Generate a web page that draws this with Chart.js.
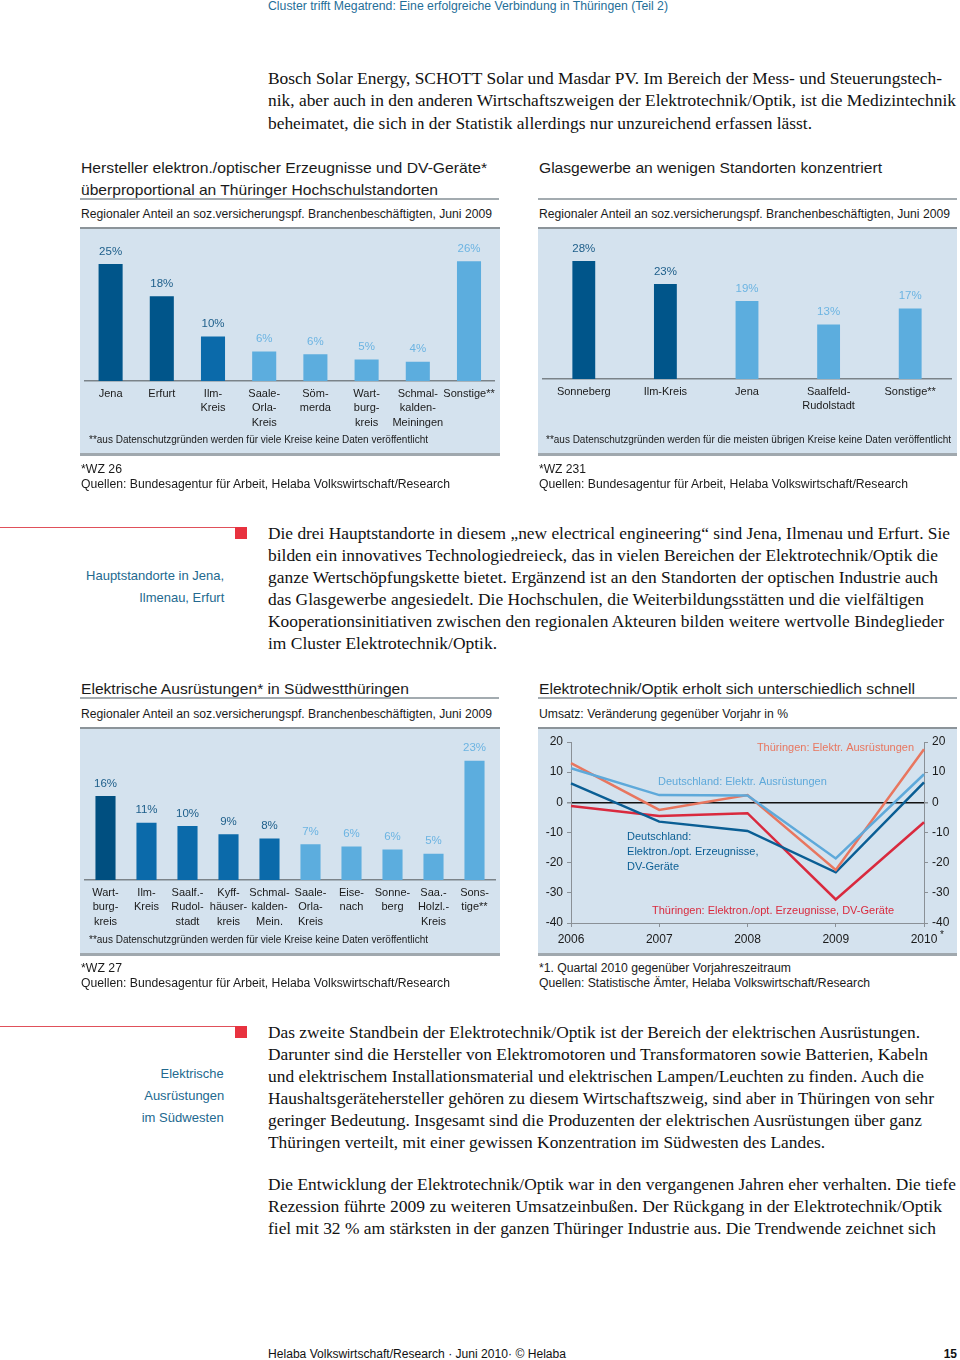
<!DOCTYPE html>
<html>
<head>
<meta charset="utf-8">
<script src="https://cdn.jsdelivr.net/npm/chart.js@4.4.1/dist/chart.umd.min.js"></script>
<style>
body{margin:0;width:960px;height:1360px;position:relative;background:#fff;overflow:hidden}
.t{position:absolute;white-space:nowrap;transform-origin:0 50%;line-height:20px;margin-top:1px;font-family:"Liberation Sans",Arial,sans-serif;color:#1a1a1a}
.s{font-family:"Liberation Serif","Times New Roman",serif;font-size:17px;color:#111}
.h{font-size:15px}
.sub{font-size:12px;line-height:16px}
.pn{font-size:10px;line-height:14px}
.side{font-size:13px;color:#23698f;transform-origin:100% 50%}
.panel{position:absolute;background:#d4e2ee;border-top:2px solid #8c949a;border-bottom:3px solid #a0a8ae;box-sizing:border-box}
.rule{position:absolute;height:2px;background:#a3abb0}
.red{position:absolute;height:1px;background:#e0505a}
.sq{position:absolute;width:12px;height:12px;background:#e8323f}
canvas{position:absolute}
</style>
</head>
<body>

<div class="t sub" style="left:268px;top:-3px;color:#1f6e98" data-w="400">Cluster trifft Megatrend: Eine erfolgreiche Verbindung in Thüringen (Teil 2)</div>

<div class="t s" style="left:268px;top:68px" data-w="674">Bosch Solar Energy, SCHOTT Solar und Masdar PV. Im Bereich der Mess- und Steuerungstech-</div>
<div class="t s" style="left:268px;top:90px" data-w="688">nik, aber auch in den anderen Wirtschaftszweigen der Elektrotechnik/Optik, ist die Medizintechnik</div>
<div class="t s" style="left:268px;top:113px" data-w="544">beheimatet, die sich in der Statistik allerdings nur unzureichend erfassen lässt.</div>

<!-- top left chart -->
<div class="t h" style="left:81px;top:157px" data-w="406">Hersteller elektron./optischer Erzeugnisse und DV-Geräte*</div>
<div class="t h" style="left:81px;top:179px" data-w="357">überproportional an Thüringer Hochschulstandorten</div>
<div class="rule" style="left:80px;top:198px;width:419px"></div>
<div class="t sub" style="left:81px;top:205px" data-w="411">Regionaler Anteil an soz.versicherungspf. Branchenbeschäftigten, Juni 2009</div>
<div class="panel" style="left:80px;top:227px;width:420px;height:229px"></div>
<canvas id="c1" width="420" height="224" style="left:80px;top:229px"></canvas>
<div class="t pn" style="left:89px;top:432px" data-w="339">**aus Datenschutzgründen werden für viele Kreise keine Daten veröffentlicht</div>
<div class="t sub" style="left:81px;top:460px" data-w="41">*WZ 26</div>
<div class="t sub" style="left:81px;top:475px" data-w="369">Quellen: Bundesagentur für Arbeit, Helaba Volkswirtschaft/Research</div>

<!-- top right chart -->
<div class="t h" style="left:539px;top:157px" data-w="343">Glasgewerbe an wenigen Standorten konzentriert</div>
<div class="rule" style="left:538px;top:198px;width:419px"></div>
<div class="t sub" style="left:539px;top:205px" data-w="411">Regionaler Anteil an soz.versicherungspf. Branchenbeschäftigten, Juni 2009</div>
<div class="panel" style="left:538px;top:227px;width:419px;height:229px"></div>
<canvas id="c2" width="419" height="224" style="left:538px;top:229px"></canvas>
<div class="t pn" style="left:546px;top:432px" data-w="405">**aus Datenschutzgründen werden für die meisten übrigen Kreise keine Daten veröffentlicht</div>
<div class="t sub" style="left:539px;top:460px" data-w="47">*WZ 231</div>
<div class="t sub" style="left:539px;top:475px" data-w="369">Quellen: Bundesagentur für Arbeit, Helaba Volkswirtschaft/Research</div>

<!-- sidebar 1 -->
<div class="red" style="left:0;top:527px;width:236px"></div>
<div class="sq" style="left:235px;top:527px"></div>
<div class="t side" style="right:736px;top:565px" data-w="138">Hauptstandorte in Jena,</div>
<div class="t side" style="right:736px;top:587px" data-w="85">Ilmenau, Erfurt</div>

<div class="t s" style="left:268px;top:523px" data-w="682">Die drei Hauptstandorte in diesem „new electrical engineering“ sind Jena, Ilmenau und Erfurt. Sie</div>
<div class="t s" style="left:268px;top:545px" data-w="670">bilden ein innovatives Technologiedreieck, das in vielen Bereichen der Elektrotechnik/Optik die</div>
<div class="t s" style="left:268px;top:567px" data-w="670">ganze Wertschöpfungskette bietet. Ergänzend ist an den Standorten der optischen Industrie auch</div>
<div class="t s" style="left:268px;top:589px" data-w="656">das Glasgewerbe angesiedelt. Die Hochschulen, die Weiterbildungsstätten und die vielfältigen</div>
<div class="t s" style="left:268px;top:611px" data-w="676">Kooperationsinitiativen zwischen den regionalen Akteuren bilden weitere wertvolle Bindeglieder</div>
<div class="t s" style="left:268px;top:633px" data-w="229">im Cluster Elektrotechnik/Optik.</div>

<!-- bottom left chart -->
<div class="t h" style="left:81px;top:678px" data-w="328">Elektrische Ausrüstungen* in Südwestthüringen</div>
<div class="rule" style="left:80px;top:697px;width:419px"></div>
<div class="t sub" style="left:81px;top:705px" data-w="411">Regionaler Anteil an soz.versicherungspf. Branchenbeschäftigten, Juni 2009</div>
<div class="panel" style="left:80px;top:727px;width:420px;height:229px"></div>
<canvas id="c3" width="420" height="224" style="left:80px;top:729px"></canvas>
<div class="t pn" style="left:89px;top:932px" data-w="339">**aus Datenschutzgründen werden für viele Kreise keine Daten veröffentlicht</div>
<div class="t sub" style="left:81px;top:959px" data-w="41">*WZ 27</div>
<div class="t sub" style="left:81px;top:974px" data-w="369">Quellen: Bundesagentur für Arbeit, Helaba Volkswirtschaft/Research</div>

<!-- bottom right chart -->
<div class="t h" style="left:539px;top:678px" data-w="376">Elektrotechnik/Optik erholt sich unterschiedlich schnell</div>
<div class="rule" style="left:538px;top:697px;width:419px"></div>
<div class="t sub" style="left:539px;top:705px" data-w="249">Umsatz: Veränderung gegenüber Vorjahr in %</div>
<div class="panel" style="left:538px;top:727px;width:419px;height:229px"></div>
<canvas id="c4" width="419" height="224" style="left:538px;top:729px"></canvas>
<div class="t sub" style="left:539px;top:959px" data-w="252">*1. Quartal 2010 gegenüber Vorjahreszeitraum</div>
<div class="t sub" style="left:539px;top:974px" data-w="331">Quellen: Statistische Ämter, Helaba Volkswirtschaft/Research</div>

<!-- sidebar 2 -->
<div class="red" style="left:0;top:1026px;width:236px"></div>
<div class="sq" style="left:235px;top:1026px"></div>
<div class="t side" style="right:736px;top:1063px" data-w="63">Elektrische</div>
<div class="t side" style="right:736px;top:1085px" data-w="80">Ausrüstungen</div>
<div class="t side" style="right:736px;top:1107px" data-w="82">im Südwesten</div>

<div class="t s" style="left:268px;top:1022px" data-w="652">Das zweite Standbein der Elektrotechnik/Optik ist der Bereich der elektrischen Ausrüstungen.</div>
<div class="t s" style="left:268px;top:1044px" data-w="660">Darunter sind die Hersteller von Elektromotoren und Transformatoren sowie Batterien, Kabeln</div>
<div class="t s" style="left:268px;top:1066px" data-w="656">und elektrischem Installationsmaterial und elektrischen Lampen/Leuchten zu finden. Auch die</div>
<div class="t s" style="left:268px;top:1088px" data-w="666">Haushaltsgerätehersteller gehören zu diesem Wirtschaftszweig, sind aber in Thüringen von sehr</div>
<div class="t s" style="left:268px;top:1110px" data-w="654">geringer Bedeutung. Insgesamt sind die Produzenten der elektrischen Ausrüstungen über ganz</div>
<div class="t s" style="left:268px;top:1132px" data-w="557">Thüringen verteilt, mit einer gewissen Konzentration im Südwesten des Landes.</div>

<div class="t s" style="left:268px;top:1174px" data-w="688">Die Entwicklung der Elektrotechnik/Optik war in den vergangenen Jahren eher verhalten. Die tiefe</div>
<div class="t s" style="left:268px;top:1196px" data-w="674">Rezession führte 2009 zu weiteren Umsatzeinbußen. Der Rückgang in der Elektrotechnik/Optik</div>
<div class="t s" style="left:268px;top:1218px" data-w="668">fiel mit 32 % am stärksten in der ganzen Thüringer Industrie aus. Die Trendwende zeichnet sich</div>

<div class="t sub" style="left:268px;top:1345px;color:#111" data-w="298">Helaba Volkswirtschaft/Research · Juni 2010· © Helaba</div>
<div class="t sub" style="right:3px;left:auto;top:1345px;font-weight:bold;color:#111">15</div>

<script>
// Hersteller elektron./optischer Erzeugnisse (Anteil in %)
const kreise1 = [['Jena'], ['Erfurt'], ['Ilm-', 'Kreis'], ['Saale-', 'Orla-', 'Kreis'], ['Söm-', 'merda'],
    ['Wart-', 'burg-', 'kreis'], ['Schmal-', 'kalden-', 'Meiningen'], ['Sonstige**']];
const anteil1 = [25, 18.1, 9.5, 6.3, 5.7, 4.6, 4.1, 25.6];

// Glasgewerbe
const kreise2 = [['Sonneberg'], ['Ilm-Kreis'], ['Jena'], ['Saalfeld-', 'Rudolstadt'], ['Sonstige**']];
const anteil2 = [28, 22.5, 18.5, 12.9, 16.7];

// Elektrische Ausrüstungen
const kreise3 = [['Wart-', 'burg-', 'kreis'], ['Ilm-', 'Kreis'], ['Saalf.-', 'Rudol-', 'stadt'], ['Kyff-', 'häuser-', 'kreis'],
    ['Schmal-', 'kalden-', 'Mein.'], ['Saale-', 'Orla-', 'Kreis'], ['Eise-', 'nach'], ['Sonne-', 'berg'],
    ['Saa.-', 'Holzl.-', 'Kreis'], ['Sons-', 'tige**']];
const anteil3 = [16, 10.9, 10.3, 8.7, 7.9, 6.8, 6.4, 5.8, 5.0, 22.7];

// Umsatz, Veränderung gegenüber Vorjahr in %
const jahre = ['2006', '2007', '2008', '2009', '2010'];
const thElektrAusr = [13, -2.5, 2.4, -22.4, 17.6];
const deElektrAusr = [11.3, 2.4, 2.3, -18.6, 9.3];
const deElektron = [6.3, -6.4, -9.5, -23.2, 6.6];
const thElektron = [-1.2, -4.5, -3.6, -32.2, -6.6];
const yTicks = [-40, -30, -20, -10, 0, 10, 20];

const SANS = '"Liberation Sans", Arial, sans-serif';
const DARK = '#00558a', MID = '#0b6aaa', LIGHT = '#5cadde';
const TXT_DARK = '#1d5e8a', TXT_LIGHT = '#6cb4e2';

// fit text lines to the widths measured on the page
document.querySelectorAll('[data-w]').forEach(el => {
    let w = el.getBoundingClientRect().width;
    el.style.transform = 'scaleX(' + (+el.dataset.w / w) + ')';
});

const valueLabels = {
    id: 'valueLabels',
    afterDatasetsDraw(chart, args, opts) {
        let ctx = chart.ctx;
        let vals = chart.data.datasets[0].data;
        ctx.save();
        ctx.font = '11.5px ' + SANS;
        ctx.textAlign = 'center';
        ctx.textBaseline = 'middle';
        chart.getDatasetMeta(0).data.forEach((bar, i) => {
            ctx.fillStyle = opts.colors[i];
            ctx.fillText(Math.round(vals[i]) + '%', bar.x, bar.y - 12.5);
        });
        ctx.restore();
    }
};

function barChart(id, labels, values, colors, textColors, max, padTop, axisH, padL, padR, barPct) {
    new Chart(document.getElementById(id), {
        type: 'bar',
        data: {
            labels: labels,
            datasets: [{
                data: values,
                backgroundColor: colors,
                barPercentage: barPct,
                categoryPercentage: 1
            }]
        },
        options: {
            responsive: false,
            animation: false,
            layout: {padding: {top: padTop, left: padL, right: padR, bottom: 0}},
            plugins: {
                legend: {display: false},
                tooltip: {enabled: false},
                valueLabels: {colors: textColors}
            },
            scales: {
                x: {
                    grid: {display: false, drawTicks: false},
                    border: {color: '#7b8389', width: 1.5},
                    ticks: {
                        color: '#1a1a1a',
                        font: {family: SANS, size: 11, lineHeight: 1.36},
                        padding: 5,
                        maxRotation: 0,
                        autoSkip: false
                    },
                    afterFit: s => { s.height = axisH; }
                },
                y: {display: false, min: 0, max: max}
            }
        },
        plugins: [valueLabels]
    });
}

barChart('c1', kreise1, anteil1,
    [DARK, DARK, MID, LIGHT, LIGHT, LIGHT, LIGHT, LIGHT],
    [TXT_DARK, TXT_DARK, TXT_DARK, TXT_LIGHT, TXT_LIGHT, TXT_LIGHT, TXT_LIGHT, TXT_LIGHT],
    30, 11.6, 72, 5, 5, 0.47);

barChart('c2', kreise2, anteil2,
    [DARK, DARK, LIGHT, LIGHT, LIGHT],
    [TXT_DARK, TXT_DARK, TXT_LIGHT, TXT_LIGHT, TXT_LIGHT],
    32, 15, 74, 5, 6, 0.28);

barChart('c3', kreise3, anteil3,
    ['#004f80', MID, MID, MID, MID, LIGHT, LIGHT, LIGHT, LIGHT, LIGHT],
    [TXT_DARK, TXT_DARK, TXT_DARK, TXT_DARK, TXT_DARK, TXT_LIGHT, TXT_LIGHT, TXT_LIGHT, TXT_LIGHT, TXT_LIGHT],
    26, 14.5, 73, 5, 5, 0.49);

// line chart
const ORANGE = '#e8765f', LBLUE = '#5ea9da', DBLUE = '#0a5e94', RED = '#d92a3e';
const AXIS = '#8a9096';

const lineNotes = {
    id: 'lineNotes',
    afterDraw(chart) {
        let ctx = chart.ctx, x = chart.scales.x, y = chart.scales.y;
        let notes = [
            {t: ['Thüringen: Elektr. Ausrüstungen'], x: 3.887, y: 18, c: ORANGE, a: 'right'},
            {t: ['Deutschland: Elektr. Ausrüstungen'], x: 0.986, y: 6.7, c: LBLUE, a: 'left'},
            {t: ['Deutschland:', 'Elektron./opt. Erzeugnisse,', 'DV-Geräte'], x: 0.635, y: -11.5, c: DBLUE, a: 'left'},
            {t: ['Thüringen: Elektron./opt. Erzeugnisse, DV-Geräte'], x: 0.918, y: -36, c: RED, a: 'left'}
        ];
        ctx.save();
        ctx.font = '11px ' + SANS;
        ctx.textBaseline = 'middle';
        notes.forEach(n => {
            ctx.fillStyle = n.c;
            ctx.textAlign = n.a;
            n.t.forEach((line, i) => {
                ctx.fillText(line, x.getPixelForValue(n.x), y.getPixelForValue(n.y) + i * 15);
            });
        });
        ctx.fillStyle = '#1a1a1a';
        ctx.textAlign = 'left';
        ctx.font = '10px ' + SANS;
        ctx.fillText('*', x.getPixelForValue(4) + 16, chart.chartArea.bottom + 12);
        ctx.restore();
    }
};

const yAxis = (pos, onArea) => ({
    position: pos,
    min: -40,
    max: 20,
    afterBuildTicks: s => { s.ticks = yTicks.map(v => ({value: v})); },
    border: {color: AXIS, width: 1},
    grid: {
        drawOnChartArea: onArea,
        color: c => (c.tick && c.tick.value === 0) ? '#111' : 'rgba(0,0,0,0)',
        lineWidth: c => (c.tick && c.tick.value === 0) ? 1.5 : 1,
        tickColor: AXIS,
        tickLength: 4
    },
    ticks: {color: '#1a1a1a', font: {family: SANS, size: 12}, padding: 4},
    afterFit: s => { s.width = 33; }
});

new Chart(document.getElementById('c4'), {
    type: 'line',
    data: {
        labels: jahre,
        datasets: [
            {data: deElektrAusr, borderColor: LBLUE},
            {data: thElektrAusr, borderColor: ORANGE},
            {data: deElektron, borderColor: DBLUE},
            {data: thElektron, borderColor: RED}
        ].map(d => Object.assign(d, {borderWidth: 2.5, pointRadius: 0, tension: 0, fill: false}))
    },
    options: {
        responsive: false,
        animation: false,
        layout: {padding: {top: 13, left: 0, right: 0, bottom: 0}},
        plugins: {legend: {display: false}, tooltip: {enabled: false}},
        scales: {
            x: {
                offset: false,
                border: {color: AXIS, width: 1},
                grid: {drawOnChartArea: false, color: AXIS, tickLength: 4},
                ticks: {color: '#1a1a1a', font: {family: SANS, size: 12}, padding: 5},
                afterFit: s => { s.height = 30; }
            },
            y: yAxis('left', true),
            y2: yAxis('right', false)
        }
    },
    plugins: [lineNotes]
});
</script>
</body>
</html>
